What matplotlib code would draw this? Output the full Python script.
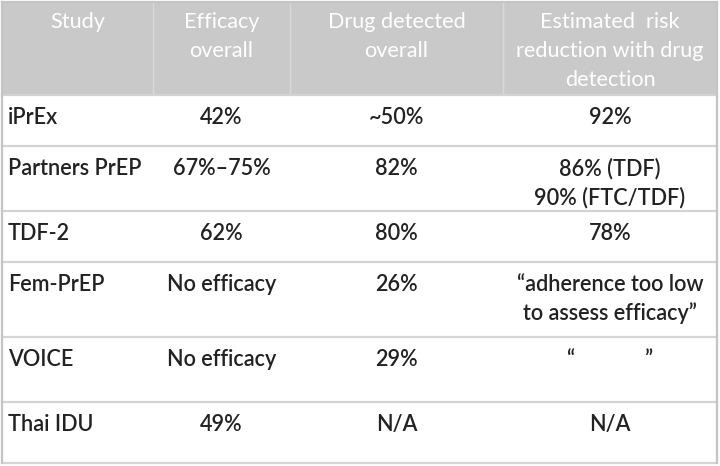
import matplotlib
matplotlib.use("Agg")
import matplotlib.pyplot as plt
from matplotlib.patches import Rectangle

plt.rcParams['font.family'] = ['Lato', 'DejaVu Sans']

headers = ["Study", "Efficacy\noverall", "Drug detected\noverall",
           "Estimated  risk\nreduction with drug\ndetection"]
studies = ["iPrEx", "Partners PrEP", "TDF-2", "Fem-PrEP", "VOICE", "Thai IDU"]
efficacy = ["42%", "67%\u201375%", "62%", "No efficacy", "No efficacy", "49%"]
drug_detected = ["~50%", "82%", "80%", "26%", "29%", "N/A"]
risk_reduction = ["92%", "86% (TDF)\n90% (FTC/TDF)", "78%",
                  "\u201cadherence too low\nto assess efficacy\u201d",
                  "\u201c             \u201d", "N/A"]

# layout (pixels)
W, H = 720, 466
col_edges = [2, 153, 290, 503, 717]
row_edges = [2, 95, 146, 211, 262, 337, 402, 463]

fig = plt.figure(figsize=(W / 100, H / 100), dpi=100)
ax = fig.add_axes([0, 0, 1, 1])
ax.set_xlim(0, W)
ax.set_ylim(H, 0)
ax.axis('off')

header_color = '#c9c9c9'
line_color = '#d3d3d3'
text_color = '#222222'

# header background
ax.add_patch(Rectangle((col_edges[0], row_edges[0]), col_edges[-1] - col_edges[0],
                       row_edges[1] - row_edges[0], facecolor=header_color,
                       edgecolor='none', zorder=1))
# header dividers
for x in col_edges[1:-1]:
    ax.plot([x, x], [row_edges[0], row_edges[1]], color='#d9d9d9', lw=1.0, zorder=2)

# horizontal lines
for y in row_edges[1:]:
    ax.plot([col_edges[0], col_edges[-1]], [y, y], color=line_color, lw=1.6, zorder=3)
# outer border
ax.plot([col_edges[0], col_edges[0]], [row_edges[0], row_edges[-1]], color='#c4c4c4', lw=1.6, zorder=3)
ax.plot([col_edges[-1], col_edges[-1]], [row_edges[0], row_edges[-1]], color='#c4c4c4', lw=1.6, zorder=3)
ax.plot([col_edges[0], col_edges[-1]], [row_edges[0], row_edges[0]], color='#c4c4c4', lw=1.6, zorder=3)

fs = 15.6
lsp = 1.42

# header text
for i, h in enumerate(headers):
    cx = (col_edges[i] + col_edges[i + 1]) / 2
    ax.text(cx, row_edges[0] + 10, h, ha='center', va='top', color='white',
            fontsize=fs, linespacing=1.55, zorder=4, multialignment='center')

# body text
cols = [studies, efficacy, drug_detected, risk_reduction]
for r in range(len(studies)):
    top = row_edges[r + 1] + 12
    for c, col in enumerate(cols):
        if c == 0:
            ax.text(col_edges[0] + 6, top, col[r], ha='left', va='top', color=text_color,
                    fontsize=fs, fontweight='semibold', linespacing=lsp, zorder=4)
        else:
            cx = (col_edges[c] + col_edges[c + 1]) / 2
            ax.text(cx, top, col[r], ha='center', va='top', color=text_color,
                    fontsize=fs, fontweight='semibold', linespacing=lsp, zorder=4,
                    multialignment='center')

fig.savefig('out.png', dpi=100, facecolor='white')
